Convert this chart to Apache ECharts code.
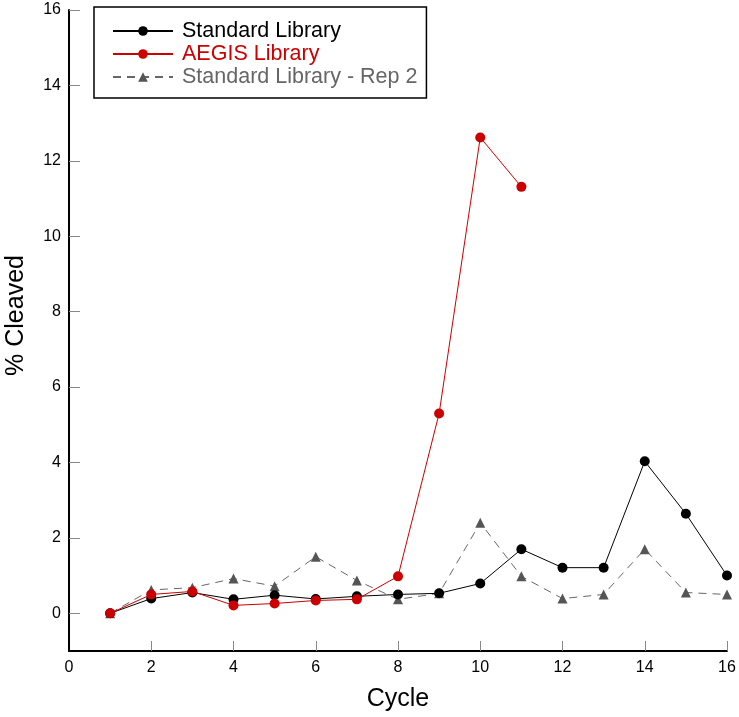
<!DOCTYPE html>
<html>
<head>
<meta charset="utf-8">
<script src="https://cdn.jsdelivr.net/npm/echarts@6/dist/echarts.min.js"></script>
<style>
html,body{margin:0;padding:0;background:#fff;}
#chart{width:739px;height:717px;}
</style>
</head>
<body>
<div id="chart"></div>
<script>
const cycles = [1,2,3,4,5,6,7,8,9,10,11,12,13,14,15,16];
const standardLibrary = [0,0.39,0.55,0.37,0.48,0.38,0.45,0.50,0.53,0.79,1.70,1.21,1.21,4.03,2.64,1.0];
const aegisLibrary = [0,0.50,0.58,0.21,0.26,0.34,0.37,0.98,5.30,12.62,11.31];
const standardRep2 = [0,0.62,0.68,0.92,0.72,1.50,0.87,0.37,0.53,2.40,0.98,0.39,0.50,1.70,0.55,0.50];
const yTicks = [0,2,4,6,8,10,12,14,16];
const xTicks = [0,2,4,6,8,10,12,14,16];

const pairs = (vals) => vals.map((v,i) => [cycles[i], v]);
const font = 'Liberation Sans, Arial, Helvetica, sans-serif';

const chart = echarts.init(document.getElementById('chart'), null, {renderer:'canvas'});
chart.setOption({
  animation:false,
  backgroundColor:'#fff',
  grid:{left:69, right:12, top:10, bottom:66, containLabel:false, outerBoundsMode:'none'},
  legend:{
    orient:'vertical', left:94, top:7,
    padding:[13,9,10,18],
    borderColor:'#000', borderWidth:1.5,
    itemWidth:60, itemHeight:12, itemGap:1,
    textStyle:{fontFamily:font, fontSize:21.5, lineHeight:22, padding:[0,0,0,4]},
    data:[
      {name:'Standard Library', textStyle:{color:'#000'}},
      {name:'AEGIS Library', textStyle:{color:'#cc0000'}},
      {name:'Standard Library - Rep 2', textStyle:{color:'#666'}}
    ]
  },
  xAxis:{
    type:'value', min:0, max:16, interval:2,
    name:'Cycle', nameLocation:'middle', nameGap:36,
    nameTextStyle:{fontFamily:font, fontSize:25, color:'#000'},
    axisLine:{show:true, onZero:false, lineStyle:{color:'#000', width:2}},
    axisTick:{show:true, inside:true, length:10, lineStyle:{color:'#888', width:1}, customValues:[2,4,6,8,10,12,14,16]},
    axisLabel:{fontFamily:font, fontSize:16, color:'#000', margin:9, customValues:xTicks},
    splitLine:{show:false}
  },
  yAxis:{
    type:'value', min:-1, max:16,
    name:'% Cleaved', nameLocation:'middle', nameGap:40, nameRotate:90,
    nameTextStyle:{fontFamily:font, fontSize:25, color:'#000', padding:[0,0,0,30]},
    axisLine:{show:true, onZero:false, lineStyle:{color:'#000', width:2}},
    axisTick:{show:true, inside:true, length:11, lineStyle:{color:'#888', width:1}, customValues:yTicks},
    axisLabel:{fontFamily:font, fontSize:16, color:'#000', margin:8, customValues:yTicks},
    splitLine:{show:false}
  },
  series:[
    {
      name:'Standard Library - Rep 2', type:'line', data:pairs(standardRep2),
      symbol:'triangle', symbolSize:10,
      itemStyle:{color:'#555'},
      lineStyle:{color:'#666', width:1, type:[8,6]},
      z:1
    },
    {
      name:'Standard Library', type:'line', data:pairs(standardLibrary),
      symbol:'circle', symbolSize:10,
      itemStyle:{color:'#000'},
      lineStyle:{color:'#000', width:1},
      z:2
    },
    {
      name:'AEGIS Library', type:'line', data:pairs(aegisLibrary),
      symbol:'circle', symbolSize:10,
      itemStyle:{color:'#cc0000'},
      lineStyle:{color:'#cc0000', width:1},
      z:3
    }
  ]
});
</script>
</body>
</html>
